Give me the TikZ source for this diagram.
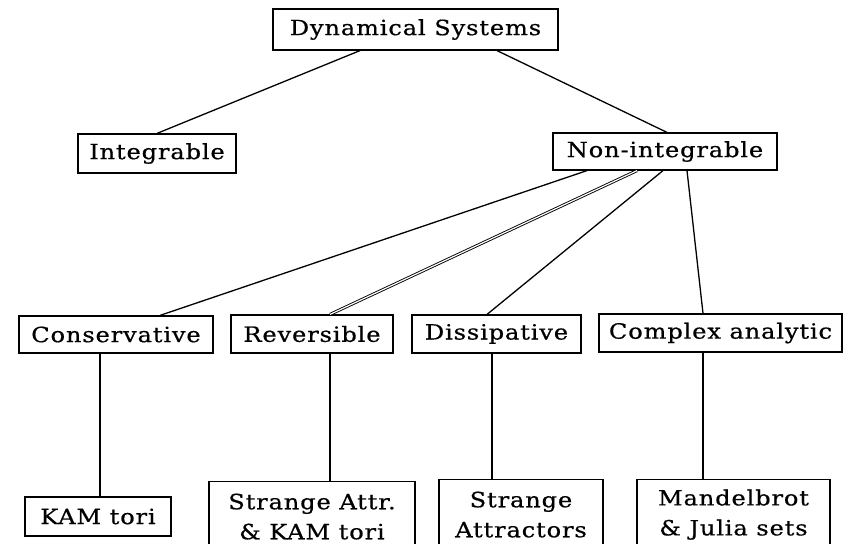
\documentclass[tikz,border=0pt]{standalone}
\usepackage{fontspec}
\setmainfont{DejaVu Serif}[FakeStretch=1.15,LetterSpace=4,FakeBold=0.6]
\usetikzlibrary{positioning}

\begin{document}
\begin{tikzpicture}[x=1pt,y=-1pt,line width=1.3pt,
    box/.style={draw,line width=1.2pt,inner sep=0pt,font=\fontsize{21}{30}\selectfont},
    tall/.style={box,anchor=north,align=center,minimum height=70pt}]
  \useasboundingbox (0,0) rectangle (853,543);
  \node[box,minimum width=285pt,minimum height=41pt] (ds)     at (415.5,29.5) {Dynamical Systems};
  \node[box,minimum width=158pt,minimum height=39pt] (integ)  at (157,153.5)  {Integrable};
  \node[box,minimum width=224pt,minimum height=37pt] (nonint) at (665,151.5)  {Non-integrable};
  \node[box,minimum width=194pt,minimum height=37pt] (cons)   at (116,334.5)  {Conservative};
  \node[box,minimum width=162pt,minimum height=38pt] (rev)    at (312,334)    {Reversible};
  \node[box,minimum width=169pt,minimum height=38pt] (diss)   at (496.5,334)  {Dissipative};
  \node[box,minimum width=243pt,minimum height=38pt] (cplx)   at (720.5,333)  {Complex analytic};
  \node[box,minimum width=146pt,minimum height=39pt] (kam)    at (98,516.5)   {KAM tori};
  \node[tall,minimum width=206pt] (sakam)  at (312,481)   {Strange Attr.\\ \& KAM tori};
  \node[tall,minimum width=164pt] (sattr)  at (521,479)   {Strange\\ Attractors};
  \node[tall,minimum width=193pt] (mandel) at (733.5,479) {Mandelbrot\\ \& Julia sets};
  \path
    ([xshift=-55.5pt]ds.south)   edge (integ.north)
    ([xshift=81.5pt]ds.south)    edge ([xshift=2pt]nonint.north)
    ([xshift=-78pt]nonint.south) edge ([xshift=44pt]cons.north)
    ([xshift=-28pt]nonint.south) edge [double,double distance=1.2pt,line width=0.9pt] ([xshift=18pt]rev.north)
    ([xshift=-2pt]nonint.south)  edge ([xshift=-9.5pt]diss.north)
    ([xshift=22pt]nonint.south)  edge ([xshift=-17.5pt]cplx.north)
    ([xshift=-16pt]cons.south)   edge ([xshift=2pt]kam.north)
    ([xshift=18pt]rev.south)     edge ([xshift=18pt]sakam.north)
    ([xshift=-4.5pt]diss.south)  edge ([xshift=-29pt]sattr.north)
    ([xshift=-17.5pt]cplx.south) edge ([xshift=-30.5pt]mandel.north)
  ;
\end{tikzpicture}
\end{document}
